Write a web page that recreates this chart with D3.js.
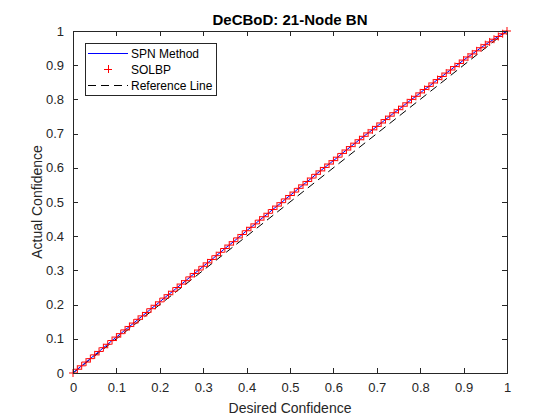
<!DOCTYPE html>
<html>
<head>
<meta charset="utf-8">
<script src="https://cdn.jsdelivr.net/npm/d3@7"></script>
<style>
  body { margin: 0; background: #ffffff; }
  svg { display: block; font-family: "Liberation Sans", Arial, Helvetica, sans-serif; }
</style>
</head>
<body>
<svg id="calib-graph"></svg>
<script>

// DATA
let desired = [
    0.00, 0.01, 0.02, 0.03, 0.04, 0.05, 0.06, 0.07, 0.08, 0.09,
    0.10, 0.11, 0.12, 0.13, 0.14, 0.15, 0.16, 0.17, 0.18, 0.19,
    0.20, 0.21, 0.22, 0.23, 0.24, 0.25, 0.26, 0.27, 0.28, 0.29,
    0.30, 0.31, 0.32, 0.33, 0.34, 0.35, 0.36, 0.37, 0.38, 0.39,
    0.40, 0.41, 0.42, 0.43, 0.44, 0.45, 0.46, 0.47, 0.48, 0.49,
    0.50, 0.51, 0.52, 0.53, 0.54, 0.55, 0.56, 0.57, 0.58, 0.59,
    0.60, 0.61, 0.62, 0.63, 0.64, 0.65, 0.66, 0.67, 0.68, 0.69,
    0.70, 0.71, 0.72, 0.73, 0.74, 0.75, 0.76, 0.77, 0.78, 0.79,
    0.80, 0.81, 0.82, 0.83, 0.84, 0.85, 0.86, 0.87, 0.88, 0.89,
    0.90, 0.91, 0.92, 0.93, 0.94, 0.95, 0.96, 0.97, 0.98, 0.99,
    1.00
]

let spn_actual = [
    0.000, 0.011, 0.021, 0.032, 0.042, 0.053, 0.063, 0.074, 0.084, 0.095,
    0.105, 0.115, 0.126, 0.136, 0.146, 0.157, 0.167, 0.177, 0.188, 0.198,
    0.208, 0.219, 0.229, 0.239, 0.250, 0.260, 0.270, 0.281, 0.291, 0.301,
    0.312, 0.322, 0.332, 0.343, 0.353, 0.364, 0.374, 0.384, 0.395, 0.405,
    0.416, 0.426, 0.436, 0.447, 0.457, 0.467, 0.478, 0.488, 0.498, 0.509,
    0.519, 0.529, 0.540, 0.550, 0.560, 0.570, 0.581, 0.591, 0.601, 0.611,
    0.621, 0.631, 0.642, 0.652, 0.662, 0.672, 0.682, 0.692, 0.702, 0.711,
    0.721, 0.731, 0.741, 0.751, 0.761, 0.770, 0.780, 0.790, 0.800, 0.809,
    0.819, 0.829, 0.838, 0.848, 0.858, 0.867, 0.877, 0.886, 0.896, 0.905,
    0.915, 0.924, 0.933, 0.942, 0.951, 0.960, 0.968, 0.976, 0.984, 0.992,
    1.000
]

let solbp_actual = [
    0.000, 0.011, 0.021, 0.032, 0.042, 0.053, 0.063, 0.074, 0.084, 0.095,
    0.105, 0.115, 0.126, 0.136, 0.146, 0.157, 0.167, 0.177, 0.188, 0.198,
    0.208, 0.219, 0.229, 0.239, 0.250, 0.260, 0.270, 0.281, 0.291, 0.301,
    0.312, 0.322, 0.332, 0.343, 0.353, 0.364, 0.374, 0.384, 0.395, 0.405,
    0.416, 0.426, 0.436, 0.447, 0.457, 0.467, 0.478, 0.488, 0.498, 0.509,
    0.519, 0.529, 0.540, 0.550, 0.560, 0.570, 0.581, 0.591, 0.601, 0.611,
    0.621, 0.631, 0.642, 0.652, 0.662, 0.672, 0.682, 0.692, 0.702, 0.711,
    0.721, 0.731, 0.741, 0.751, 0.761, 0.770, 0.780, 0.790, 0.800, 0.809,
    0.819, 0.829, 0.838, 0.848, 0.858, 0.867, 0.877, 0.886, 0.896, 0.905,
    0.915, 0.924, 0.933, 0.942, 0.951, 0.960, 0.968, 0.976, 0.984, 0.992,
    1.000
]

let reference_line = [0, 1]

let tick_values = [0, 0.1, 0.2, 0.3, 0.4, 0.5, 0.6, 0.7, 0.8, 0.9, 1]
let tick_labels = ["0", "0.1", "0.2", "0.3", "0.4", "0.5", "0.6", "0.7", "0.8", "0.9", "1"]

let legend_labels = ["SPN Method", "SOLBP", "Reference Line"]


// SIZES
let margins = {top: 31, bottom: 47, left: 73, right: 53}
let svgWidth = 560 - margins.left - margins.right
let svgHeight = 420 - margins.top - margins.bottom
let axis_color = '#262626'

let chartContainer = d3
    .select('#calib-graph')
    .attr('width', 560)
    .attr('height', 420)

let x = d3.scaleLinear().domain([0, 1]).range([0, svgWidth])
let y = d3.scaleLinear().domain([0, 1]).range([svgHeight, 0])

let chart = chartContainer
    .append('g')
    .attr("transform", `translate(${margins.left},${margins.top})`)

// REFERENCE LINE
chart
    .append('path')
    .datum(reference_line)
    .attr('fill', 'none')
    .attr('stroke', '#000000')
    .attr('stroke-width', 1)
    .attr('stroke-dasharray', '8,5')
    .attr('d', d3.line().x(d => x(d)).y(d => y(d)))

// SPN METHOD LINE
chart
    .append('path')
    .datum(desired.map((d, i) => [d, spn_actual[i]]))
    .attr('fill', 'none')
    .attr('stroke', '#0000ff')
    .attr('stroke-width', 1)
    .attr('d', d3.line().x(d => x(d[0])).y(d => y(d[1])))

// SOLBP MARKERS
chart
    .selectAll('.solbp')
    .data(desired.map((d, i) => [d, solbp_actual[i]]))
    .enter()
    .append('path')
    .classed('solbp', true)
    .attr('d', 'M-4,0H4M0,-4V4')
    .attr('transform', d => `translate(${x(d[0])},${y(d[1])})`)
    .attr('fill', 'none')
    .attr('stroke', '#ff0000')
    .attr('stroke-width', 1)

// AXES (BOX WITH INWARD TICKS)
let fmt = (d, i) => tick_labels[i]

chart
    .append('g')
    .attr('transform', `translate(0, ${svgHeight})`)
    .call(d3.axisBottom(x).tickValues(tick_values).tickFormat(fmt).tickSizeInner(-5).tickSizeOuter(0).tickPadding(10))
    .attr('color', axis_color)
    .attr('font-size', 13)
    .attr('font-family', null)

chart
    .append('g')
    .call(d3.axisLeft(y).tickValues(tick_values).tickFormat(fmt).tickSizeInner(-5).tickSizeOuter(0).tickPadding(9))
    .attr('color', axis_color)
    .attr('font-size', 13)
    .attr('font-family', null)

chart
    .append('g')
    .call(d3.axisTop(x).tickValues(tick_values).tickFormat('').tickSizeInner(-5).tickSizeOuter(0))
    .attr('color', axis_color)

chart
    .append('g')
    .attr('transform', `translate(${svgWidth}, 0)`)
    .call(d3.axisRight(y).tickValues(tick_values).tickFormat('').tickSizeInner(-5).tickSizeOuter(0))
    .attr('color', axis_color)

chart.selectAll('.domain, .tick line')
    .attr('stroke-width', 1)
    .attr('shape-rendering', 'crispEdges')

// X AXIS LABEL
chart
    .append('text')
    .attr('x', svgWidth / 2)
    .attr('y', svgHeight + 40)
    .attr('text-anchor', 'middle')
    .attr('fill', axis_color)
    .attr('font-size', 14)
    .text("Desired Confidence")

// Y AXIS LABEL
chart
    .append('text')
    .attr('transform', `translate(-31, ${svgHeight / 2}) rotate(-90)`)
    .attr('text-anchor', 'middle')
    .attr('fill', axis_color)
    .attr('font-size', 14)
    .text("Actual Confidence")

// GRAPH TITLE
chart
    .append('text')
    .attr('x', svgWidth / 2)
    .attr('y', -6)
    .attr('text-anchor', 'middle')
    .attr('fill', '#000000')
    .attr('font-size', 15)
    .attr('font-weight', 'bold')
    .text("DeCBoD: 21-Node BN")

// LEGEND
let legend = chartContainer
    .append('g')
    .attr('transform', 'translate(85, 43)')

legend
    .append('rect')
    .attr('width', 131)
    .attr('height', 52)
    .attr('fill', '#ffffff')
    .attr('stroke', axis_color)
    .attr('stroke-width', 1)
    .attr('shape-rendering', 'crispEdges')

let rows = legend
    .selectAll('.legend-row')
    .data(legend_labels)
    .enter()
    .append('g')
    .classed('legend-row', true)
    .attr('transform', (d, i) => `translate(0, ${10 + i * 16})`)

rows
    .append('text')
    .attr('x', 46)
    .attr('y', 4.5)
    .attr('fill', '#000000')
    .attr('font-size', 12)
    .text(d => d)

legend.select('.legend-row:nth-of-type(1)')
    .append('line')
    .attr('x1', 3).attr('x2', 43)
    .attr('stroke', '#0000ff')
    .attr('stroke-width', 1)
    .attr('shape-rendering', 'crispEdges')

legend.select('.legend-row:nth-of-type(2)')
    .append('path')
    .attr('d', 'M-4,0H4M0,-4V4')
    .attr('transform', 'translate(23, 0)')
    .attr('fill', 'none')
    .attr('stroke', '#ff0000')
    .attr('stroke-width', 1)
    .attr('shape-rendering', 'crispEdges')

legend.select('.legend-row:nth-of-type(3)')
    .append('line')
    .attr('x1', 3).attr('x2', 43)
    .attr('stroke', '#000000')
    .attr('stroke-width', 1)
    .attr('stroke-dasharray', '8,5')
    .attr('shape-rendering', 'crispEdges')

</script>
</body>
</html>
